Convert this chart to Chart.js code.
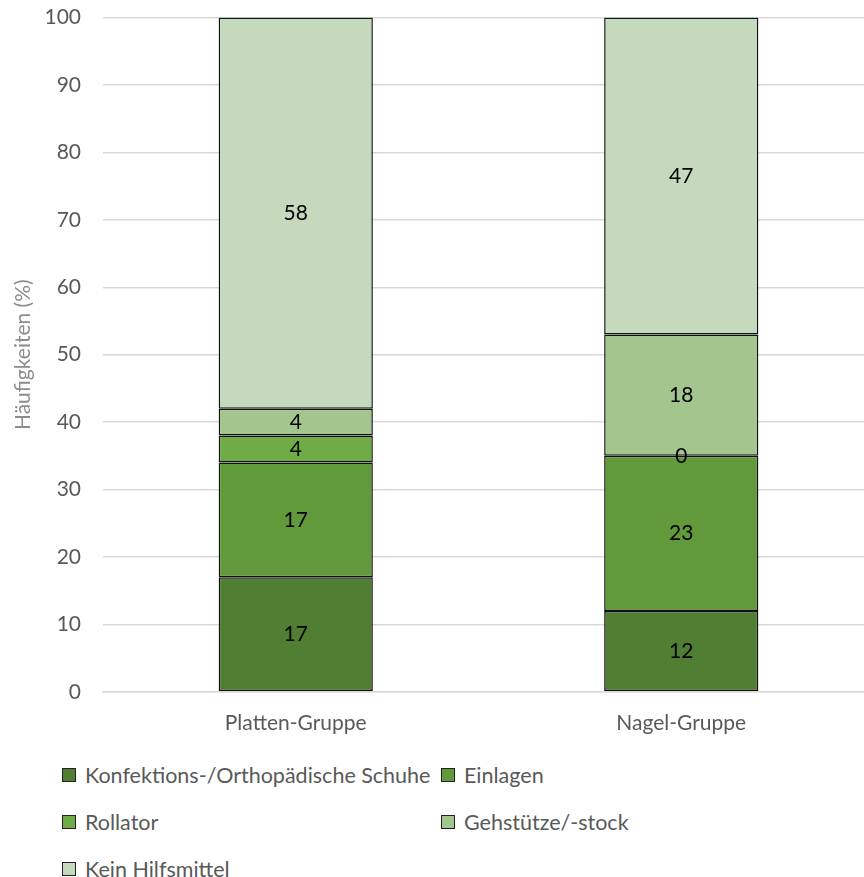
<!DOCTYPE html>
<html>
<head>
<meta charset="utf-8">
<script src="https://cdn.jsdelivr.net/npm/chart.js@4"></script>
<style>
    html, body { margin: 0; padding: 0; background: #fff; overflow: hidden; }
    #wrap { position: absolute; left: 0; top: -17px; width: 880px; height: 764px; }
    #legend {
        position: absolute; left: 62px; top: 760px; width: 780px;
        display: grid; grid-template-columns: 379px 380px; row-gap: 17px;
        font-family: Lato, sans-serif; font-size: 21.5px; color: #595959;
    }
    .item { display: flex; align-items: center; height: 30px; white-space: nowrap; }
    .box { width: 12px; height: 12px; border: 1px solid #222; margin-right: 9px; flex: none; }
</style>
</head>
<body>
<div id="wrap"><canvas id="chart" width="880" height="764"></canvas></div>
<div id="legend"></div>
<script>
// Data
const categories = ['Platten-Gruppe', 'Nagel-Gruppe'];
const seriesNames = ['Konfektions-/Orthopädische Schuhe', 'Einlagen', 'Rollator', 'Gehstütze/-stock', 'Kein Hilfsmittel'];
const schuhe = [17, 12];
const einlagen = [17, 23];
const rollator = [4, 0];
const gehstuetze = [4, 18];
const keinHilfsmittel = [58, 47];
const yTicks = [0, 10, 20, 30, 40, 50, 60, 70, 80, 90, 100];
const yTitle = 'Häufigkeiten (%)';

const colors = ['#507e32', '#61993b', '#6fac46', '#a2c68e', '#c5d9bc'];
const seriesValues = [schuhe, einlagen, rollator, gehstuetze, keinHilfsmittel];

/**
 * Draw the value in the middle of every bar segment
 */
const valueLabels = {
    id: 'valueLabels',
    afterDatasetsDraw(chart) {
        const ctx = chart.ctx;
        ctx.save();
        ctx.font = '21px Lato';
        ctx.fillStyle = '#000';
        ctx.textAlign = 'center';
        ctx.textBaseline = 'middle';
        chart.data.datasets.forEach((ds, i) => {
            chart.getDatasetMeta(i).data.forEach((bar, j) => {
                const mid = (bar.y + bar.base) / 2;
                ctx.fillText(String(ds.data[j]), bar.x, mid);
            });
        });
        ctx.restore();
    }
};

/**
 * Rotated y axis title, placed closer to the tick labels
 */
const axisTitle = {
    id: 'axisTitle',
    afterDraw(chart) {
        const ctx = chart.ctx;
        const area = chart.chartArea;
        ctx.save();
        ctx.translate(23, (area.top + area.bottom) / 2);
        ctx.rotate(-Math.PI / 2);
        ctx.font = '21px Lato';
        ctx.fillStyle = '#8c8c8c';
        ctx.textAlign = 'center';
        ctx.textBaseline = 'middle';
        ctx.fillText(yTitle, 0, 0);
        ctx.restore();
    }
};

const ctx = document.getElementById('chart').getContext('2d');
new Chart(ctx, {
    type: 'bar',
    data: {
        labels: categories,
        datasets: seriesValues.map((vals, i) => ({
            label: seriesNames[i],
            data: vals,
            backgroundColor: colors[i],
            borderColor: '#111',
            borderWidth: 1.5,
            borderSkipped: false,
            categoryPercentage: 0.4,
            barPercentage: 1
        }))
    },
    options: {
        responsive: false,
        animation: false,
        layout: { padding: { top: 6, right: 6, left: 45, bottom: 0 } },
        plugins: {
            legend: { display: false },
            tooltip: { enabled: false }
        },
        scales: {
            x: {
                stacked: true,
                grid: { display: false },
                border: { color: '#d9d9d9', width: 1.5 },
                ticks: { color: '#595959', font: { family: 'Lato', size: 21 }, padding: 11 }
            },
            y: {
                stacked: true,
                min: 0,
                max: 100,
                afterBuildTicks: axis => { axis.ticks = yTicks.map(v => ({ value: v })); },
                afterFit: axis => { axis.width = 58; },
                grid: { color: '#d9d9d9', lineWidth: 1.5, drawTicks: false },
                border: { display: false },
                ticks: { color: '#595959', font: { family: 'Lato', size: 21 }, padding: 22 }
            }
        }
    },
    plugins: [valueLabels, axisTitle]
});

// HTML legend built from the series arrays
const legend = document.getElementById('legend');
seriesNames.forEach((name, i) => {
    const item = document.createElement('div');
    item.className = 'item';
    item.innerHTML = `<span class="box" style="background:${colors[i]}"></span>${name}`;
    legend.appendChild(item);
});
</script>
</body>
</html>
